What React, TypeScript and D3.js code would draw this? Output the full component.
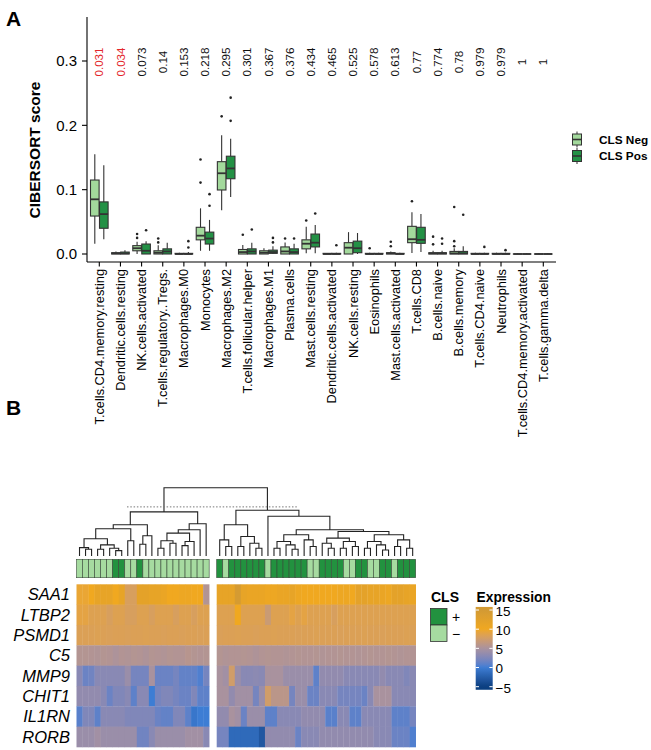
import React from "react";
import * as d3 from "d3";

// ---------- Panel A data ----------
const categories = [
  "T.cells.CD4.memory.resting", "Dendritic.cells.resting", "NK.cells.activated",
  "T.cells.regulatory..Tregs.", "Macrophages.M0", "Monocytes", "Macrophages.M2",
  "T.cells.follicular.helper", "Macrophages.M1", "Plasma.cells", "Mast.cells.resting",
  "Dendritic.cells.activated", "NK.cells.resting", "Eosinophils", "Mast.cells.activated",
  "T.cells.CD8", "B.cells.naive", "B.cells.memory", "T.cells.CD4.naive", "Neutrophils",
  "T.cells.CD4.memory.activated", "T.cells.gamma.delta",
];
const pValues = ["0.031", "0.034", "0.073", "0.14", "0.153", "0.218", "0.295", "0.301", "0.367", "0.376", "0.434", "0.465", "0.525", "0.578", "0.613", "0.77", "0.774", "0.78", "0.979", "0.979", "1", "1"];
const significant = [true, true, false, false, false, false, false, false, false, false, false, false, false, false, false, false, false, false, false, false, false, false];
const yTicks = [0, 0.1, 0.2, 0.3];

const negLow = [0.016, 0, 0, 0, 0, 0.005, 0.068, 0, 0, 0, 0.001, 0, 0, 0, 0, 0.0015, 0, 0, 0, 0, 0, 0];
const negQ1 = [0.059, 0, 0.005, 0, 0, 0.022, 0.0995, 0, 0, 0, 0.008, 0, 0, 0, 0, 0.0176, 0, 0, 0, 0, 0, 0];
const negMedian = [0.085, 0.001, 0.009, 0.002, 0, 0.0285, 0.1255, 0.003, 0.002, 0.004, 0.016, 0, 0.0098, 0, 0.001, 0.023, 0.001, 0.001, 0, 0, 0, 0];
const negQ3 = [0.115, 0.002, 0.013, 0.005, 0.001, 0.0415, 0.1435, 0.007, 0.005, 0.011, 0.022, 0.001, 0.0176, 0.001, 0.002, 0.043, 0.002, 0.004, 0.001, 0.001, 0, 0];
const negHigh = [0.155, 0.004, 0.019, 0.0135, 0.002, 0.071, 0.1845, 0.014, 0.009, 0.018, 0.0425, 0.001, 0.034, 0.002, 0.004, 0.065, 0.005, 0.009, 0.002, 0.002, 0.001, 0.001];
const negOutliers = [[], [], [0.025, 0.031], [0.018, 0.024], [], [0.111, 0.147], [0.214], [0.03], [], [0.024], [0.052], [], [], [0.009], [0.012, 0.019], [0.082], [0.015, 0.027], [0.012, 0.02, 0.073], [], [], [], []];

const posLow = [0.023, 0, 0, 0, 0, 0.005, 0.0886, 0, 0, 0, 0.001, 0, 0, 0, 0, 0.003, 0, 0, 0, 0, 0, 0];
const posQ1 = [0.04, 0, 0, 0, 0, 0.0155, 0.117, 0, 0.001, 0, 0.011, 0, 0.002, 0, 0, 0.0166, 0, 0, 0, 0, 0, 0];
const posMedian = [0.062, 0.001, 0.005, 0.004, 0, 0.024, 0.133, 0.004, 0.003, 0.003, 0.0176, 0, 0.009, 0, 0, 0.022, 0.001, 0.001, 0, 0, 0, 0];
const posQ3 = [0.081, 0.003, 0.0155, 0.008, 0.001, 0.034, 0.152, 0.008, 0.006, 0.008, 0.031, 0.001, 0.02, 0.001, 0.001, 0.0415, 0.002, 0.004, 0.001, 0.001, 0, 0];
const posHigh = [0.138, 0.006, 0.02, 0.0176, 0.003, 0.053, 0.179, 0.0176, 0.012, 0.016, 0.045, 0.002, 0.0326, 0.002, 0.002, 0.062, 0.005, 0.012, 0.002, 0.002, 0.001, 0.001];
const posOutliers = [[], [], [0.037], [], [0.01, 0.02], [0.075, 0.093], [0.207, 0.243], [0.038], [0.018, 0.025], [0.024], [0.063], [0.0135], [], [], [], [], [0.016, 0.024], [0.061], [0.011], [0.006], [], []];

const groupNames = ["CLS Neg", "CLS Pos"];

// ---------- Panel B data ----------
const genes = ["SAA1", "LTBP2", "PSMD1", "C5", "MMP9", "CHIT1", "IL1RN", "RORB"];
const leftCount = 22;
// CLS status per sample column (left cluster then right cluster); 1 = "+", 0 = "−"
const clsStatus = [
  0, 0, 0, 0, 0, 0, 1, 1, 0, 0, 1, 0, 0, 0, 0, 0, 0, 0, 0, 0, 0, 0,
  1, 0, 1, 1, 1, 1, 1, 1, 0, 1, 1, 1, 1, 1, 1, 0, 0, 1, 1, 1, 1, 0, 0, 1, 1, 0, 0, 1, 1, 0, 1, 1, 1,
];
const exprSAA1 = [9.5, 9.5, 10, 11.5, 11.5, 11.5, 10, 11.5, 8, 8, 12, 12, 11.5, 11.5, 11, 10, 10, 10.5, 10.5, 10, 10, 5.5,
  11.5, 11.5, 11.5, 14.5, 11.5, 11, 11, 11, 10.5, 10.5, 11, 11, 11.5, 10.5, 10, 10, 10, 10, 10, 10, 10.5, 10.5, 10, 12, 12, 11.5, 11.5, 11, 10.5, 12, 12, 11.5, 11];
const exprLTBP2 = [9, 9, 8.5, 8.5, 8.5, 8, 8.5, 8.5, 8, 8, 8.5, 8.5, 8, 8.5, 8.5, 8.5, 8, 8.5, 8.5, 8, 8.5, 8.5,
  8.5, 8.5, 8.5, 10, 8.5, 8.5, 8.5, 8.5, 7, 8.5, 8.5, 8.5, 9, 8.5, 9, 8.5, 8.5, 8.5, 8.5, 8, 8.5, 8.5, 8.5, 8.5, 8.5, 8.5, 8.5, 8.5, 8.5, 8.5, 8.5, 8.5, 8.5];
const exprPSMD1 = [8.3, 8.3, 8.3, 8.4, 8.3, 8.2, 8.3, 8.3, 8.2, 8.3, 8.3, 8.4, 8.3, 8.3, 8.2, 8.3, 8.3, 8.2, 8.3, 8.3, 8.2, 8.3,
  8.2, 8.3, 8.3, 8.4, 8.3, 8.3, 8.2, 8.3, 8.3, 8.4, 8.3, 8.3, 8.3, 8.2, 8.3, 8.3, 8.4, 8.3, 8.3, 8.3, 8.2, 8.3, 8.3, 8.3, 8.4, 8.3, 8.3, 8.2, 8.3, 8.3, 8.3, 8.4, 8.3];
const exprC5 = [5.6, 5.6, 5.5, 5.4, 5.6, 5.5, 5.2, 5.5, 5.4, 5.6, 5.5, 5.3, 5.6, 5.5, 5.4, 5.6, 5.5, 5.5, 5.8, 5.6, 5.5, 5.6,
  5.6, 5.4, 5.5, 5.5, 5.6, 5.5, 5.3, 5.5, 5.6, 5.5, 5.5, 5.4, 5.5, 5.6, 5.5, 5.5, 5.6, 5.4, 5.5, 5.5, 5.6, 5.5, 5.5, 5.4, 5.5, 5.6, 5.5, 5.5, 5.6, 5.5, 5.4, 5.5, 5.5];
const exprMMP9 = [3, 1.5, 1.8, 3, 3, 3, 3, 3, 4, 2, 2, 2, 5, 1.5, 1.5, 1.5, 2, 1.2, 1.2, 1.2, 0.5, 2,
  5, 4.5, 7.5, 4, 3, 3, 3.2, 3, 5, 5, 5, 4, 4, 4, 4, 4, 1, 3.5, 3.5, 3.5, 3.5, 3, 3, 3, 3, 3, 3, 3.5, 3, 3, 3, 2.5, 3];
const exprCHIT1 = [3.5, 3.5, 3.5, 3.5, 3, 1.5, 2.5, 2.5, 3, 1, 3, 3, 0, 2, 2.5, 2.5, 2, 1.5, 1.5, 2.5, 1, 1,
  5, 5, 3.5, 4.5, 4.5, 4.5, 2, 4, 7.5, 6, 6, 6, 2, 4, 4, 1.5, 1.5, 3, 3, 3, 2, 2, 2, 2, 1.5, 3, 5, 5, 5, 3, 3, 3, 3];
const exprIL1RN = [0.8, 2.5, 2.5, 1, 3, 3, 3, 3, 2.5, 2.5, 2.5, 2.5, 2.5, 1.5, 1.2, 1.2, 2.5, 2.5, 1, -0.5, 0, 0,
  3.5, 3.5, 5, 4.5, 1.5, 4, 4, 4, 1, 1, 3, 3, 3, 3, 3.5, 3.5, 3.5, 3.5, 0.8, 0.8, 3, 3, 1, 1, 3, 3, 3, 3, 3, 1, 1, 1, 2];
const exprRORB = [4, 4, 4, 4.5, 4, 4, 4, 4, 4, 4, 1.8, 1.8, 3, 4, 4, 4, 4, 4, 4.5, 4.5, 4.5, 3,
  2, 2, -1.5, -1.5, -1.5, -1.5, -1.5, -3, 3.5, 3.5, 3.5, 3.5, 3.5, 1.5, 3, 3, 3, 3.5, 3.5, 3.5, 3.5, 3.5, 3.5, 3.5, 3.5, 3.5, 3, 3, 3, 1.5, 1.5, 1.5, 0.5];
const exprRows = [exprSAA1, exprLTBP2, exprPSMD1, exprC5, exprMMP9, exprCHIT1, exprIL1RN, exprRORB];

// Column dendrogram: [mergeHeight, left, right]; leaves are column indices
const dendroTree: any = [99,
  [63.9,
    [45.4,
      [39.5,
        [24.9, [12.2, 0, [9.8, 1, 2]], [16.1, [9.8, 3, 4], [11.2, 5, [7.8, 6, 7]]]],
        [22.0, 8, 9]],
      [29.3, [17.1, 10, 11], 12]],
    [46.8,
      [38.1,
        [33.2, [22.0, [11.2, 13, 14], [18.5, 15, 16]], [21.0, [15.1, 17, 18], 19]],
        20],
      21]],
  [66.4,
    [45.4,
      [23.4, 22, [13.7, 23, 24]],
      [28.3, [13.7, 25, 26], [18.5, 27, [11.2, 28, 29]]]],
    [57.6,
      30,
      [38.1,
        [30.7, [21.0, [11.2, 31, 32], [16.1, 33, [9.8, 34, 35]]], [23.4, 36, [13.7, 37, 38]]],
        [35.6,
          [25.9, [18.5, 39, [11.2, 40, 41]], [21.0, [11.2, 42, 43], [13.7, 44, 45]]],
          [30.7, [21.0, [11.2, 46, 47], [16.1, 48, [8.8, 49, 50]]], [23.4, [13.7, 51, 52], [11.2, 53, 54]]]]]]]];
const cutHeight = 71.2;

const exprTicks = [15, 10, 5, 0, -5];
const exprDomain = [-5, 0, 5, 10, 15];
const exprColors = ["#0b3f80", "#3d7dd4", "#a9929e", "#f0a820", "#d29a34"];

const FONT = "Arial, 'Liberation Sans', Helvetica, sans-serif";

export default function App() {
  // ---- Panel A scales ----
  const x = d3.scalePoint<string>().domain(categories).range([99.3, 543.3]);
  const y = d3.scaleLinear().domain([0, 0.3]).range([254, 61]);
  const axisX0 = 87, axisX1 = 556, axisY = 262, axisTop = 17;
  const boxW = 8.6, off = 4.5;
  const fills = ["#a3d99c", "#239145"];

  const groups = [
    { low: negLow, q1: negQ1, med: negMedian, q3: negQ3, high: negHigh, out: negOutliers, dx: -off, fill: fills[0] },
    { low: posLow, q1: posQ1, med: posMedian, q3: posQ3, high: posHigh, out: posOutliers, dx: off, fill: fills[1] },
  ];

  // ---- Panel B scales ----
  const colW = 6.03;
  const leftX0 = 76.5, rightX0 = 216.7;
  const colX = (i: number) => (i < leftCount ? leftX0 + colW * i : rightX0 + colW * (i - leftCount));
  const rowY = d3.scaleBand<string>().domain(genes).range([584.3, 747]);
  const color = d3.scaleLinear<string>().domain(exprDomain).range(exprColors).interpolate(d3.interpolateLab).clamp(true);
  const dY = d3.scaleLinear().domain([0, 99]).range([556, 487.7]);

  // dendrogram segments
  const segs: string[] = [];
  const layout = (node: any): { x: number; h: number } => {
    if (typeof node === "number") return { x: colX(node) + colW / 2, h: 0 };
    const [h, a, b] = node;
    const A = layout(a), B = layout(b);
    segs.push(`M${A.x},${dY(A.h)}V${dY(h)}H${B.x}V${dY(B.h)}`);
    return { x: (A.x + B.x) / 2, h };
  };
  layout(dendroTree);

  const barY = d3.scaleLinear().domain([-5, 15]).range([686.7, 610]);
  const gradStops = d3.range(-5.8, 15.81, 0.5);

  return (
    <svg width={651} height={750} style={{ position: "absolute", left: 0, top: 0, fontFamily: FONT }}>
      <rect width={651} height={750} fill="#fff" />
      {/* Panel labels */}
      <text x={6} y={26} fontSize={21} fontWeight="bold">A</text>
      <text x={6} y={415} fontSize={21} fontWeight="bold">B</text>

      {/* Y axis */}
      <line x1={axisX0} x2={axisX0} y1={axisTop} y2={axisY} stroke="#000" strokeWidth={1.1} />
      {yTicks.map((t) => (
        <g key={t}>
          <line x1={axisX0 - 5} x2={axisX0} y1={y(t)} y2={y(t)} stroke="#000" strokeWidth={1.1} />
          <text x={axisX0 - 10} y={y(t)} dy="0.36em" textAnchor="end" fontSize={15}>{t.toFixed(1)}</text>
        </g>
      ))}
      <text transform={`translate(40,150) rotate(-90)`} textAnchor="middle" fontSize={15.5} fontWeight="bold">CIBERSORT score</text>

      {/* X axis */}
      <line x1={axisX0} x2={axisX1} y1={axisY} y2={axisY} stroke="#000" strokeWidth={1.1} />
      {categories.map((c) => (
        <g key={c}>
          <line x1={x(c)} x2={x(c)} y1={axisY} y2={axisY + 4.5} stroke="#000" strokeWidth={1.1} />
          <text transform={`translate(${x(c)},${axisY + 7}) rotate(-90)`} dy="0.36em" textAnchor="end" fontSize={12.8}>{c}</text>
        </g>
      ))}

      {/* p-values */}
      {categories.map((c, i) => (
        <text key={c} transform={`translate(${x(c)},62) rotate(-90)`} dy="0.36em" textAnchor="middle" fontSize={11.6} fill={significant[i] ? "#e3262b" : "#111"}>{pValues[i]}</text>
      ))}

      {/* Boxplots */}
      {categories.map((c, i) => (
        <g key={c}>
          {groups.map((g, k) => {
            const cx = (x(c) as number) + g.dx;
            return (
              <g key={k}>
                <line x1={cx} x2={cx} y1={y(g.high[i])} y2={y(g.q3[i])} stroke="#333" strokeWidth={1.1} />
                <line x1={cx} x2={cx} y1={y(g.q1[i])} y2={y(g.low[i])} stroke="#333" strokeWidth={1.1} />
                <rect x={cx - boxW / 2} y={y(g.q3[i])} width={boxW} height={Math.max(0.01, y(g.q1[i]) - y(g.q3[i]))} fill={g.fill} stroke="#333" strokeWidth={1.1} />
                <line x1={cx - boxW / 2} x2={cx + boxW / 2} y1={y(g.med[i])} y2={y(g.med[i])} stroke="#333" strokeWidth={1.8} />
                {g.out[i].map((o: number, j: number) => (
                  <circle key={j} cx={cx} cy={y(o)} r={1.3} fill="#222" />
                ))}
              </g>
            );
          })}
        </g>
      ))}

      {/* Legend A */}
      {groupNames.map((n, k) => {
        const cy = 139.5 + k * 16.5;
        return (
          <g key={n}>
            <line x1={577} x2={577} y1={cy - 8} y2={cy + 8} stroke="#333" strokeWidth={1} />
            <rect x={572.5} y={cy - 5.5} width={9} height={11} fill={fills[k]} stroke="#333" strokeWidth={1} />
            <line x1={572.5} x2={581.5} y1={cy} y2={cy} stroke="#333" strokeWidth={1.6} />
            <text x={599} y={cy} dy="0.36em" fontSize={11.8} fontWeight="bold">{n}</text>
          </g>
        );
      })}

      {/* Dendrogram */}
      <path d={segs.join("")} fill="none" stroke="#222" strokeWidth={1.1} />
      <line x1={127} x2={298} y1={dY(cutHeight)} y2={dY(cutHeight)} stroke="#777" strokeWidth={1} strokeDasharray="1.5,1.8" />

      {/* CLS annotation */}
      {clsStatus.map((s, i) => (
        <rect key={i} x={colX(i)} y={559.3} width={colW} height={18.4} fill={s ? "#22923f" : "#a6dba0"} stroke="#3a4a3a" strokeWidth={0.6} />
      ))}

      {/* Heatmap */}
      {exprRows.map((row, r) => row.map((v, i) => (
        <rect key={`${r}-${i}`} x={colX(i)} y={rowY(genes[r])} width={colW + 0.3} height={rowY.bandwidth() + 0.3} fill={color(v)} />
      )))}
      {genes.map((g) => (
        <text key={g} x={70} y={(rowY(g) as number) + rowY.bandwidth() / 2} dy="0.36em" textAnchor="end" fontSize={16.5} fontStyle="italic">{g}</text>
      ))}

      {/* CLS legend */}
      <text x={431} y={602} fontSize={14} fontWeight="bold">CLS</text>
      <rect x={430.5} y={608.5} width={16.5} height={16.5} fill="#22923f" stroke="#333" strokeWidth={0.8} />
      <rect x={430.5} y={625} width={16.5} height={16.5} fill="#a6dba0" stroke="#333" strokeWidth={0.8} />
      <text x={452} y={617} dy="0.36em" fontSize={14}>+</text>
      <text x={452} y={634} dy="0.36em" fontSize={14}>−</text>

      {/* Expression legend */}
      <defs>
        <linearGradient id="exprGrad" x1="0" x2="0" y1="1" y2="0">
          {gradStops.map((v) => (
            <stop key={v} offset={(v + 5.8) / 21.6} stopColor={color(v)} />
          ))}
        </linearGradient>
      </defs>
      <text x={476.5} y={601.5} fontSize={13.8} fontWeight="bold">Expression</text>
      <rect x={475.7} y={barY(15.8)} width={17} height={barY(-5.8) - barY(15.8)} fill="url(#exprGrad)" />
      {exprTicks.map((t) => (
        <g key={t}>
          <line x1={475.7} x2={479} y1={barY(t)} y2={barY(t)} stroke="#fff" strokeWidth={1} />
          <line x1={489.4} x2={492.7} y1={barY(t)} y2={barY(t)} stroke="#fff" strokeWidth={1} />
          <text x={495.5} y={barY(t) + 1} dy="0.36em" fontSize={13.5}>{t < 0 ? `−${Math.abs(t)}` : t}</text>
        </g>
      ))}
    </svg>
  );
}
